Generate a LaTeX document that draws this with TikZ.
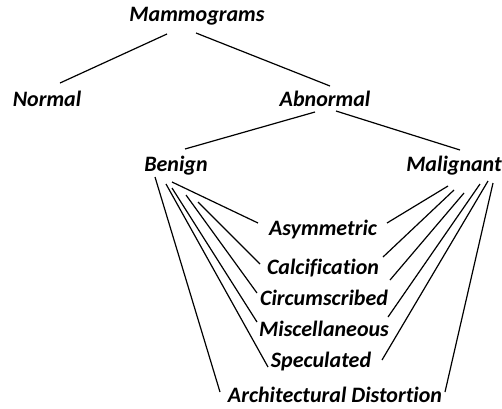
\documentclass[tikz,border=0pt]{standalone}
\usepackage{fontspec}
\setmainfont[Ligatures=CommonOff]{Carlito}
\begin{document}
\begin{tikzpicture}[x=1pt,y=-1pt,
  lbl/.style={font=\fontsize{22}{26}\selectfont\bfseries\itshape, inner sep=0pt, anchor=base},
  conn/.style={line width=1.2pt, black}]
\useasboundingbox (0,0) rectangle (502,408);
\node[lbl] (mam) at (197,21) {Mammograms};
\node[lbl] (normal) at (47,106) {Normal};
\node[lbl] (abn) at (325,106) {Abnormal};
\node[lbl] (benign) at (176,171) {Benign};
\node[lbl] (malig) at (454,171) {Malignant};
\node[lbl] (asym) at (323,235) {Asymmetric};
\node[lbl] (calc) at (323,274) {Calcification};
\node[lbl] (circ) at (324,305) {Circumscribed};
\node[lbl] (misc) at (324,336) {Miscellaneous};
\node[lbl] (spec) at (321,367) {Speculated};
\node[lbl] (arch) at (335,402) {Architectural Distortion};
% tree links (offsets from base anchors)
\draw[conn] ([shift={(-30,13)}]mam.base) -- ([shift={(13,-23)}]normal.base);
\draw[conn] ([shift={(-1,12)}]mam.base) -- ([shift={(5,-20)}]abn.base);
\draw[conn] ([shift={(-10,6)}]abn.base) -- ([shift={(9,-22)}]benign.base);
\draw[conn] ([shift={(11,5)}]abn.base) -- ([shift={(6,-21)}]malig.base);
% benign links
\draw[conn] ([shift={(-4,11)}]benign.base) -- ([shift={(-65,-12)}]asym.base);
\draw[conn] ([shift={(22,31)}]benign.base) -- ([shift={(-63,-10)}]calc.base);
\draw[conn] ([shift={(10,24)}]benign.base) -- ([shift={(-67,-12)}]circ.base);
\draw[conn] ([shift={(-4,17)}]benign.base) -- ([shift={(-67,-14)}]misc.base);
\draw[conn] ([shift={(-10,13)}]benign.base) -- ([shift={(-53,0)}]spec.base);
\draw[conn] ([shift={(-21,6)}]benign.base) -- ([shift={(-115,-10)}]arch.base);
% malignant links
\draw[conn] ([shift={(-6,15)}]malig.base) -- ([shift={(64,-12)}]asym.base);
\draw[conn] ([shift={(0,19)}]malig.base) -- ([shift={(60,-17)}]calc.base);
\draw[conn] ([shift={(10,22)}]malig.base) -- ([shift={(66,-25)}]circ.base);
\draw[conn] ([shift={(26,13)}]malig.base) -- ([shift={(64,-19)}]misc.base);
\draw[conn] ([shift={(34,10)}]malig.base) -- ([shift={(61,-7)}]spec.base);
\draw[conn] ([shift={(39,12)}]malig.base) -- ([shift={(110,-10)}]arch.base);
\end{tikzpicture}
\end{document}
